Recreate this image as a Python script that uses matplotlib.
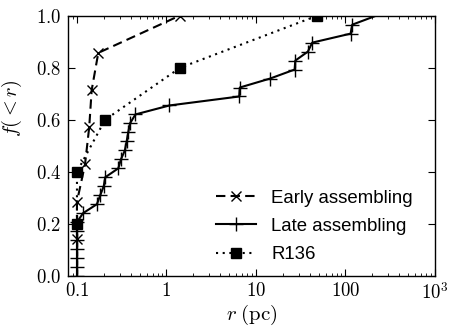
import matplotlib
matplotlib.use("Agg")
import matplotlib.pyplot as plt
import numpy as np

plt.rcParams['mathtext.fontset'] = 'cm'
plt.rcParams['font.family'] = ['Liberation Sans', 'DejaVu Sans']

# Data
early_r = [0.1, 0.1, 0.123, 0.137, 0.146, 0.173, 1.40]
early_f = [1/7, 2/7, 3/7, 4/7, 5/7, 6/7, 7/7]

late_r = [0.1, 0.1, 0.1, 0.1, 0.1, 0.1, 0.1, 0.117, 0.167, 0.182, 0.199, 0.207,
          0.29, 0.31, 0.343, 0.359, 0.374, 0.391, 0.45, 1.08, 6.5, 6.6, 14.4,
          27.0, 27.5, 38.0, 42.5, 114.0, 119.0, 220.0]
late_f = [k / 29 for k in range(0, 30)]

r136_r = [0.1, 0.1, 0.206, 1.42, 48.3]
r136_f = [0.2, 0.4, 0.6, 0.8, 1.0]

xticks = [0.1, 1, 10, 100, 1000]
xticklabels = ['$0.1$', '$1$', '$10$', '$100$', '$10^3$']
yticks = [0.0, 0.2, 0.4, 0.6, 0.8, 1.0]
yticklabels = ['$0.0$', '$0.2$', '$0.4$', '$0.6$', '$0.8$', '$1.0$']

fig = plt.figure(figsize=(4.58, 3.27), dpi=100)
ax = fig.add_axes([68/458, 51/327, 367/458, 260.3/327])

ax.plot(early_r, early_f, color='black', lw=1.5, dashes=(4.5, 2.5),
        marker='x', ms=7, mew=1.0, label='Early assembling')
ax.plot(late_r, late_f, color='black', lw=1.5, ls='-',
        marker='+', ms=10, mew=1.0, markevery=slice(0, -1), label='Late assembling')
ax.plot(r136_r, r136_f, color='black', lw=1.5, dashes=(1, 2.2),
        marker='s', ms=7.5, mew=1.0, label='R136')

ax.set_xscale('log')
ax.set_xlim(0.0794, 1000)
ax.set_ylim(0, 1)
ax.set_xticks(xticks)
ax.set_xticklabels(xticklabels)
ax.set_yticks(yticks)
ax.set_yticklabels(yticklabels)
ax.tick_params(which='both', direction='in', top=True, right=True, labelsize=13.5)
ax.tick_params(which='major', length=5, width=0.8)
ax.tick_params(which='minor', length=2.5, width=0.6)
ax.tick_params(axis='x', pad=4)
ax.tick_params(axis='y', pad=5)
for s in ax.spines.values():
    s.set_linewidth(1.0)

ax.set_xlabel(r'$r\;(\mathrm{pc})$', fontsize=15, labelpad=0)
ax.set_ylabel(r'$f(<r)$', fontsize=14.5)
ax.yaxis.set_label_coords(-0.12, 0.646)

leg = ax.legend(loc='lower right', frameon=False, fontsize=13.4, numpoints=1,
                handlelength=2.15, handletextpad=0.8, labelspacing=0.6,
                bbox_to_anchor=(0.985, -0.015))

fig.savefig('out.png', dpi=100)
